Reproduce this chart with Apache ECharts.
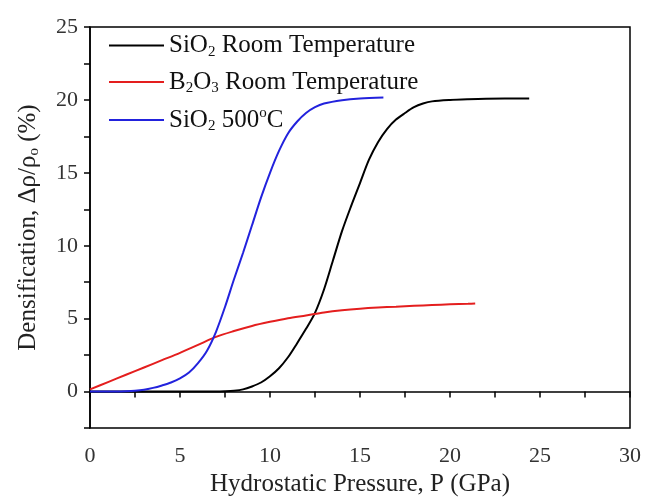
<!DOCTYPE html>
<html><head><meta charset="utf-8">
<script src="https://cdn.jsdelivr.net/npm/echarts@6/dist/echarts.min.js"></script>
<style>html,body{margin:0;padding:0;background:#fff}#c{width:654px;height:502px}</style>
</head><body><div id="c"></div>
<script>
const seriesNames = ['SiO2 Room Temperature', 'B2O3 Room Temperature', 'SiO2 500C'];
const xTicks = [0, 5, 10, 15, 20, 25, 30];
const yTicks = [0, 5, 10, 15, 20, 25];

const sio2RtP = [0,1,2,3,4,5,6,7,7.5,8,8.5,9,9.5,10,10.5,11,11.5,12,12.5,13,13.5,14,14.5,15,15.5,16,16.5,17,17.5,18,18.5,19,20,21,22,24.4];
const sio2RtD = [0,0,0,0,0,0,0,0,0.02,0.06,0.15,0.35,0.62,1.05,1.6,2.35,3.3,4.3,5.4,7.0,9.0,11.0,12.7,14.3,15.9,17.1,18.0,18.65,19.1,19.5,19.75,19.9,20.0,20.05,20.08,20.1];

const b2o3P = [0,1,2,3,4,5,6,7,8,9,10,11,12,13,14,15,16,17,18,19,20,21,21.4];
const b2o3D = [0.15,0.65,1.15,1.65,2.15,2.65,3.2,3.75,4.15,4.5,4.78,5.03,5.22,5.42,5.57,5.68,5.76,5.82,5.88,5.93,5.98,6.02,6.04];

const sio2HtP = [0,1,2,2.5,3,3.5,4,4.5,5,5.5,6,6.5,7,7.5,8,8.5,9,9.5,10,10.5,11,11.5,12,12.5,13,14,15,16.3];
const sio2HtD = [0,0,0.02,0.05,0.12,0.25,0.42,0.62,0.9,1.3,1.95,2.8,4.1,5.8,7.7,9.5,11.4,13.3,15.0,16.5,17.7,18.5,19.1,19.5,19.75,19.98,20.1,20.17];

const pairs = (xs, ys) => xs.map((x, i) => [x, ys[i]]);
const FONT = '"Liberation Serif", "Times New Roman", serif';
const legendRich = {
  n: {fontSize: 25, fontFamily: FONT, color: '#111', lineHeight: 28, verticalAlign: 'middle'},
  sub: {fontSize: 15, fontFamily: FONT, color: '#111', verticalAlign: 'bottom', lineHeight: 28},
  sup: {fontSize: 15, fontFamily: FONT, color: '#111', verticalAlign: 'top', lineHeight: 28}
};
const legendText = {
  'SiO2 Room Temperature': '{n|SiO}{sub|2}{n| Room Temperature}',
  'B2O3 Room Temperature': '{n|B}{sub|2}{n|O}{sub|3}{n| Room Temperature}',
  'SiO2 500C': '{n|SiO}{sub|2}{n| 500}{sup|o}{n|C}'
};

const chart = echarts.init(document.getElementById('c'), null, {renderer: 'canvas'});
const lineStyle = (c) => ({color: c, width: 2});
chart.setOption({
  animation: false,
  backgroundColor: '#fff',
  grid: {left: 90, right: 24, top: 27, bottom: 70, show: true, borderColor: '#000', borderWidth: 1.5, backgroundColor: 'transparent'},
  legend: {
    orient: 'vertical', left: 104, top: 28, itemWidth: 55, itemHeight: 2, itemGap: 10, icon: 'rect',
    data: seriesNames,
    formatter: (n) => legendText[n],
    textStyle: {rich: legendRich, fontFamily: FONT, fontSize: 25, color: '#111'}
  },
  xAxis: {
    type: 'value', min: 0, max: 30, interval: 5,
    name: 'Hydrostatic Pressure, P (GPa)', nameLocation: 'middle', nameGap: 44,
    nameTextStyle: {fontFamily: FONT, fontSize: 25, color: '#222'},
    axisLine: {show: true, lineStyle: {color: '#000', width: 1.5}},
    axisTick: {show: true, inside: false, length: 6, lineStyle: {color: '#000', width: 1.5}},
    minorTick: {show: true, splitNumber: 2, length: 6, lineStyle: {color: '#000', width: 1.5}},
    axisLabel: {margin: 17, fontFamily: FONT, fontSize: 22, color: '#333',
      formatter: (v) => xTicks.includes(v) ? String(v) : ''},
    splitLine: {show: false}
  },
  yAxis: {
    type: 'value', min: -2.5, max: 25, interval: 2.5,
    name: '{n|Densification, Δρ/ρ}{s|o}{n| (%)}', nameLocation: 'middle', nameGap: 48,
    nameTextStyle: {fontFamily: FONT, fontSize: 25, color: '#222',
      rich: {n: {fontFamily: FONT, fontSize: 25, color: '#222', lineHeight: 28, verticalAlign: 'middle'},
             s: {fontFamily: FONT, fontSize: 15, color: '#222', lineHeight: 28, verticalAlign: 'bottom'}}},
    axisLine: {show: true, lineStyle: {color: '#000', width: 1.5}},
    axisTick: {show: true, inside: false, length: 6, lineStyle: {color: '#000', width: 1.5}},
    axisLabel: {margin: 12, fontFamily: FONT, fontSize: 22, color: '#333',
      formatter: (v) => yTicks.includes(v) ? String(v) : ''},
    splitLine: {show: false}
  },
  series: [
    {name: seriesNames[0], type: 'line', data: pairs(sio2RtP, sio2RtD), showSymbol: false, symbol: 'none', smooth: 0.3, lineStyle: lineStyle('#000000'), itemStyle: {color: '#000000'}},
    {name: seriesNames[1], type: 'line', data: pairs(b2o3P, b2o3D), showSymbol: false, symbol: 'none', smooth: 0.3, lineStyle: lineStyle('#e41e1e'), itemStyle: {color: '#e41e1e'}},
    {name: seriesNames[2], type: 'line', data: pairs(sio2HtP, sio2HtD), showSymbol: false, symbol: 'none', smooth: 0.3, lineStyle: lineStyle('#2222dd'), itemStyle: {color: '#2222dd'}}
  ]
});
</script></body></html>
